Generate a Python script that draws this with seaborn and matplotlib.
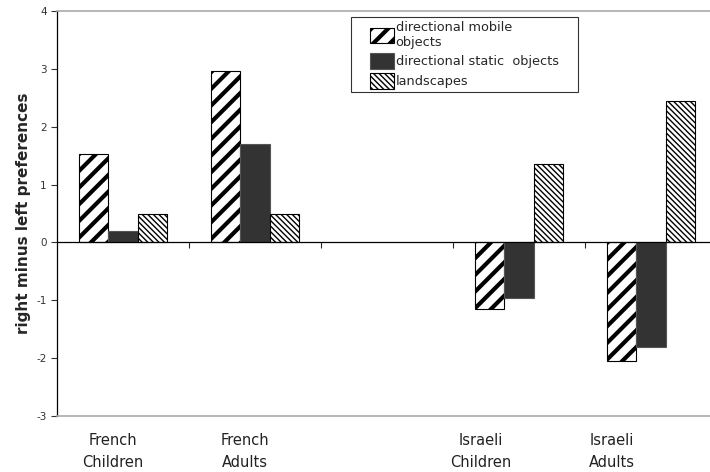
import matplotlib
matplotlib.use("Agg")
import matplotlib.pyplot as plt
import seaborn as sns
import pandas as pd
from matplotlib.container import BarContainer
from matplotlib.legend_handler import HandlerPatch, update_from_first_child

# 데이터
groups = ['French\nChildren', 'French\nAdults', '', 'Israeli\nChildren', 'Israeli\nAdults']
series = ['directional mobile\nobjects', 'directional static  objects', 'landscapes']
mobile = [1.52, 2.97, None, -1.15, -2.05]
static = [0.19, 1.70, None, -0.96, -1.81]
landscapes = [0.50, 0.50, None, 1.36, 2.44]
yticks = [-3, -2, -1, 0, 1, 2, 3, 4]

rows = []
for name, vals in zip(series, [mobile, static, landscapes]):
    for g, v in zip(groups, vals):
        if v is not None:
            rows.append({'group': g, 'series': name, 'value': v})
df = pd.DataFrame(rows)

sns.set_style('white')
plt.rcParams['font.family'] = ['DejaVu Sans']
plt.rcParams['axes.unicode_minus'] = False

fig = plt.figure(figsize=(7.1, 4.72), dpi=100)
ax = fig.add_axes([57 / 710, 1 - 416 / 472, 660 / 710, 405 / 472])

sns.barplot(data=df, x='group', y='value', hue='series', order=groups,
            hue_order=series, width=0.667, ax=ax, legend=False, errorbar=None)

# 막대 스타일 (해치)
styles = [('white', 'black', '//', 3.0), ('#333333', '#555555', '', 1.0),
          ('white', 'black', '\\\\\\\\\\\\', 1.0)]
for cont, (fc, ec, hatch, hlw) in zip(ax.containers, styles):
    for p in cont:
        p.set_facecolor(fc)
        p.set_edgecolor(ec)
        p.set_linewidth(0.8)
        p.set_hatch(hatch)
        if hasattr(p, 'set_hatch_linewidth'):
            p.set_hatch_linewidth(hlw)

ax.set_ylim(-3, 4)
ax.set_xlim(-0.5, len(groups) - 0.5)
ax.set_yticks(yticks)
ax.tick_params(axis='y', direction='out', length=4, width=0.8, labelsize=7.5,
               left=True, colors='#333333')
ax.set_ylabel('right minus left preferences', fontsize=11, fontweight='bold')
ax.set_xlabel('')

# 카테고리 라벨
label_pos = [-0.08, 0.92, 2.0, 2.71, 3.70]
ax.set_xticks(label_pos)
ax.set_xticklabels(groups, fontsize=10.5, color='#222222', linespacing=1.55)
ax.tick_params(axis='x', length=0, pad=12.5)

for s in ['top', 'bottom', 'right']:
    ax.spines[s].set_color('#aaaaaa')
    ax.spines[s].set_linewidth(1.2)
ax.spines['left'].set_color('black')
ax.spines['left'].set_linewidth(0.9)

# 0 기준선과 구분 눈금
ax.axhline(0, color='black', linewidth=0.9)
sec = ax.secondary_xaxis(3 / 7)
sec.set_xticks([i + 0.5 for i in range(len(groups) - 1)])
sec.tick_params(direction='out', length=4, width=0.8, labelbottom=False,
                labeltop=False, bottom=True, top=False)
sec.spines['bottom'].set_visible(False)
sec.spines['top'].set_visible(False)

# 범례
fs = 9.3
leg = ax.legend(handles=ax.containers, labels=series, loc='upper left',
                bbox_to_anchor=(351 / 710, 1 - 96 / 472, 227 / 710, 79 / 472),
                bbox_transform=fig.transFigure, mode='expand',
                handler_map={BarContainer: HandlerPatch(xpad=1.15, update_func=update_from_first_child)},
                fontsize=fs, frameon=True, fancybox=False, edgecolor='black',
                handlelength=3.0, handleheight=1.45, handletextpad=0.15,
                labelspacing=0.35, borderpad=0.3, borderaxespad=0)
leg.get_frame().set_linewidth(0.8)
for h, (fc, ec, hatch, hlw) in zip(leg.legend_handles, styles):
    if hasattr(h, 'set_hatch_linewidth'):
        h.set_hatch_linewidth(hlw)

fig.savefig('out.png', dpi=100)
